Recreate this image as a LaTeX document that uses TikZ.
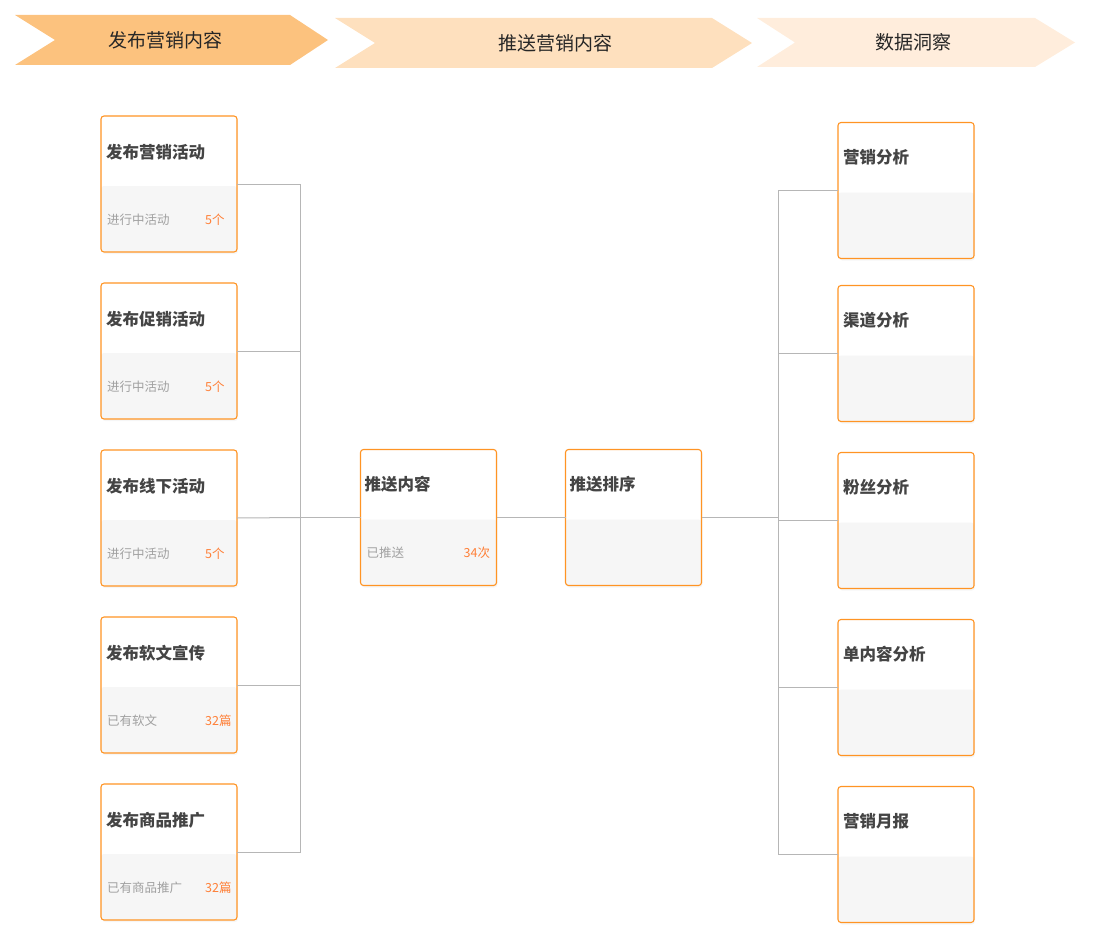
\documentclass[tikz,border=0pt]{standalone}
\usepackage{fontspec}
\setmainfont{Noto Sans CJK SC}
\usetikzlibrary{positioning, shadows}
\definecolor{stageone}{RGB}{252, 194, 126}
\definecolor{stagetwo}{RGB}{254, 224, 190}
\definecolor{stagethree}{RGB}{255, 237, 220}
\definecolor{cardorange}{RGB}{255, 148, 36}
\definecolor{cardgray}{RGB}{246, 246, 246}
\definecolor{valueorange}{RGB}{255, 128, 56}
\definecolor{titlegray}{RGB}{68, 68, 68}
\definecolor{subgray}{RGB}{160, 160, 160}
\definecolor{linegray}{RGB}{182, 182, 182}

\begin{document}
\begin{tikzpicture}[
    x=1pt, y=-1pt,
    card/.style={
        rectangle,
        draw=cardorange,
        fill=white,
        line width=1.1pt,
        rounded corners=3pt,
        minimum width=136pt,
        minimum height=136pt,
        outer sep=0pt,
        drop shadow={opacity=0.07, shadow xshift=1pt, shadow yshift=-2pt},
        path picture={
            \fill[cardgray] (path picture bounding box.south west) rectangle ([yshift=66pt]path picture bounding box.south east);
        }
    },
    stagetext/.style={
        font=\fontsize{19}{22}\selectfont,
        text=black!85
    },
    cardtitle/.style={
        anchor=west,
        inner sep=0pt,
        font=\bfseries\fontsize{16.5}{19}\selectfont,
        text=titlegray
    },
    cardsub/.style={
        anchor=west,
        inner sep=0pt,
        font=\fontsize{12.5}{15}\selectfont,
        text=subgray
    },
    cardvalue/.style={
        anchor=west,
        inner sep=0pt,
        font=\fontsize{12.5}{15}\selectfont,
        text=valueorange
    },
    link/.style={
        draw=linegray,
        line width=1pt
    }
]
\useasboundingbox (0,0) rectangle (1100,942);

% Stages
\fill[stageone] (15,15) -- (290,15) -- (328,40) -- (290,65) -- (15,65) -- (55,40) -- cycle;
\fill[stagetwo] (335,18) -- (712,18) -- (752,43) -- (712,68) -- (335,68) -- (375,43) -- cycle;
\fill[stagethree] (757,18) -- (1035,18) -- (1075,42.5) -- (1035,67) -- (757,67) -- (795,42.5) -- cycle;
\node (publish) [stagetext] at (165,40) {发布营销内容};
\node (delivery) [stagetext] at (555,43) {推送营销内容};
\node (insight) [stagetext] at (913,42) {数据洞察};

% Nodes
\node (campaign) [card] at (169,184) {};
\node (promo) [card, below=31pt of campaign] {};
\node (offline) [card, below=31pt of promo] {};
\node (article) [card, below=31pt of offline] {};
\node (goods) [card, below=31pt of article] {};

\node (push) [card] at (428.5,517.5) {};
\node (rank) [card, right=69pt of push] {};

\node (marketing) [card] at (906,190.5) {};
\node (channel) [card, below=27pt of marketing] {};
\node (fans) [card, below=31pt of channel] {};
\node (single) [card, below=31pt of fans] {};
\node (monthly) [card, below=31pt of single] {};

% Card texts
\node (campaign title) [cardtitle] at ([shift={(5pt,-36pt)}]campaign.north west) {发布营销活动};
\node (campaign sub) [cardsub] at ([shift={(6pt,-104pt)}]campaign.north west) {进行中活动};
\node (campaign value) [cardvalue] at ([shift={(104pt,-104pt)}]campaign.north west) {5个};
\node (promo title) [cardtitle] at ([shift={(5pt,-36pt)}]promo.north west) {发布促销活动};
\node (promo sub) [cardsub] at ([shift={(6pt,-104pt)}]promo.north west) {进行中活动};
\node (promo value) [cardvalue] at ([shift={(104pt,-104pt)}]promo.north west) {5个};
\node (offline title) [cardtitle] at ([shift={(5pt,-36pt)}]offline.north west) {发布线下活动};
\node (offline sub) [cardsub] at ([shift={(6pt,-104pt)}]offline.north west) {进行中活动};
\node (offline value) [cardvalue] at ([shift={(104pt,-104pt)}]offline.north west) {5个};
\node (article title) [cardtitle] at ([shift={(5pt,-36pt)}]article.north west) {发布软文宣传};
\node (article sub) [cardsub] at ([shift={(6pt,-104pt)}]article.north west) {已有软文};
\node (article value) [cardvalue] at ([shift={(104pt,-104pt)}]article.north west) {32篇};
\node (goods title) [cardtitle] at ([shift={(5pt,-36pt)}]goods.north west) {发布商品推广};
\node (goods sub) [cardsub] at ([shift={(6pt,-104pt)}]goods.north west) {已有商品推广};
\node (goods value) [cardvalue] at ([shift={(104pt,-104pt)}]goods.north west) {32篇};

\node (push title) [cardtitle] at ([shift={(4pt,-35pt)}]push.north west) {推送内容};
\node (push sub) [cardsub] at ([shift={(6pt,-103pt)}]push.north west) {已推送};
\node (push value) [cardvalue] at ([shift={(103pt,-103pt)}]push.north west) {34次};
\node (rank title) [cardtitle] at ([shift={(4pt,-35pt)}]rank.north west) {推送排序};

\node (marketing title) [cardtitle] at ([shift={(5pt,-35pt)}]marketing.north west) {营销分析};
\node (channel title) [cardtitle] at ([shift={(5pt,-35pt)}]channel.north west) {渠道分析};
\node (fans title) [cardtitle] at ([shift={(5pt,-35pt)}]fans.north west) {粉丝分析};
\node (single title) [cardtitle] at ([shift={(5pt,-35pt)}]single.north west) {单内容分析};
\node (monthly title) [cardtitle] at ([shift={(5pt,-35pt)}]monthly.north west) {营销月报};

\coordinate[left=60pt of push.west] (busL);
\coordinate[right=77pt of rank.east] (busR);

% Connections
\draw [link] (campaign.east) -| (busL);
\draw [link] (promo.east) -| (busL);
\draw [link] (offline.east) -- (busL);
\draw [link] (article.east) -| (busL);
\draw [link] (goods.east) -| (busL);
\draw [link] (busL) -- (push.west);
\draw [link] (push.east) -- (rank.west);
\draw [link] (rank.east) -- (busR);
\draw [link] (busR) |- (marketing.west);
\draw [link] (busR) |- (channel.west);
\draw [link] (busR) |- (fans.west);
\draw [link] (busR) |- (single.west);
\draw [link] (busR) |- (monthly.west);

\end{tikzpicture}
\end{document}
